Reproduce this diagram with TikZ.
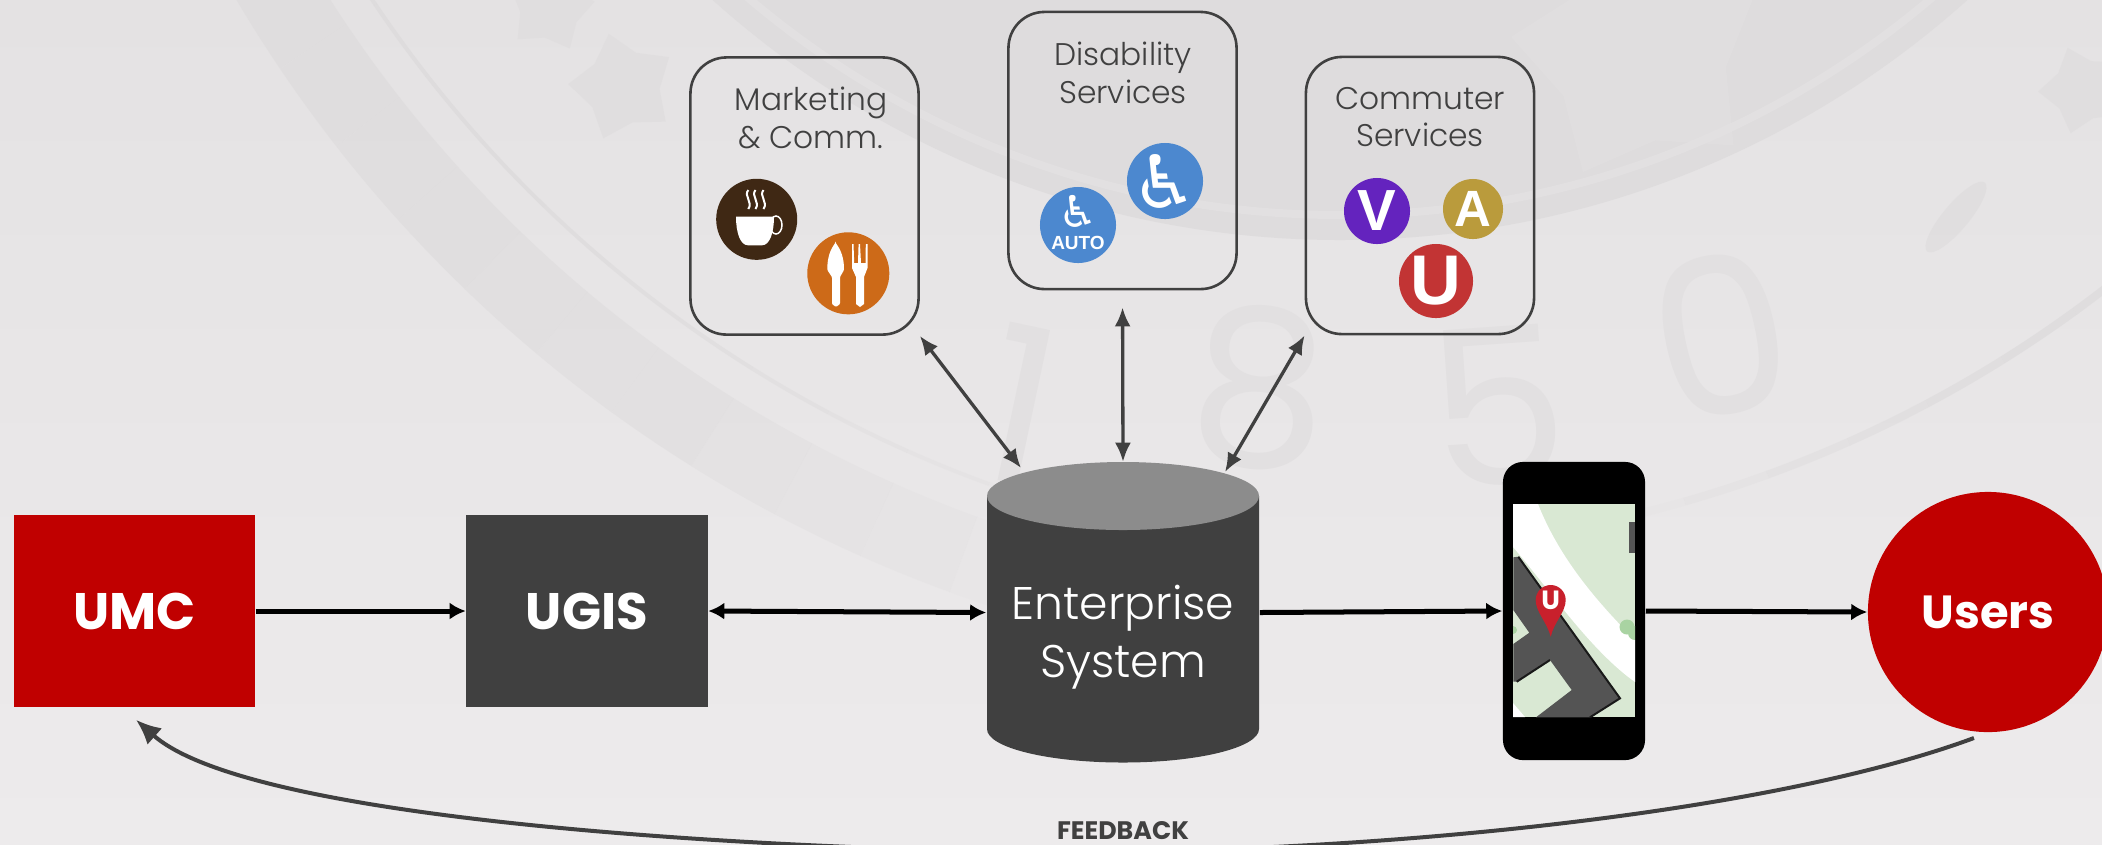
\documentclass[tikz,border=0pt]{standalone}
\usepackage{fontspec}
\usepackage{tikz}
\usetikzlibrary{arrows.meta, shapes.geometric}
\setmainfont{Poppins}
\newfontfamily\lightfont{Poppins Light}
\newfontfamily\armfont{Liberation Sans}
\newfontfamily\symfont{DejaVu Sans}

\definecolor{uured}{HTML}{C00000}
\definecolor{uudark}{HTML}{404040}
\definecolor{bgtop}{HTML}{E4E2E3}
\definecolor{bgbot}{HTML}{EDEBEC}
\definecolor{sealband}{HTML}{DEDCDD}
\definecolor{sealline}{HTML}{DCDADB}
\definecolor{sealdisc}{HTML}{DEDCDD}
\definecolor{seallite}{HTML}{E2E0E1}
\definecolor{mapgreen}{HTML}{D9E8D3}
\definecolor{mapdot}{HTML}{A9D3A2}
\definecolor{pinred}{HTML}{C8202C}
\definecolor{chairblue}{HTML}{4C88CF}
\definecolor{coffeebrown}{HTML}{3F2814}
\definecolor{diningorange}{HTML}{CD6A18}
\definecolor{lineviolet}{HTML}{6423BE}
\definecolor{linegold}{HTML}{BA9B3C}
\definecolor{linered}{HTML}{C23434}

\tikzset{
  solidbox/.style={rectangle, text=white, font=\bfseries\fontsize{14.6}{18}\selectfont,
    minimum width=2.41cm, minimum height=1.92cm, inner sep=0},
  servicebox/.style={draw=uudark, line width=0.026cm, rectangle, rounded corners=0.36cm,
    minimum width=2.28cm, minimum height=2.77cm, inner sep=0},
  servicetext/.style={text=uudark, align=center, inner sep=0,
    font=\lightfont\fontsize{8.9}{10.7}\selectfont},
  icon/.style={circle, inner sep=0, text=white},
  flow/.style={line width=0.05cm, black, {Latex[length=0.16cm,width=0.17cm]}-{Latex[length=0.16cm,width=0.17cm]}},
  oneway/.style={line width=0.05cm, black, -{Latex[length=0.16cm,width=0.17cm]}},
  link/.style={line width=0.033cm, uudark, {Latex[length=0.19cm,width=0.16cm]}-{Latex[length=0.19cm,width=0.16cm]}},
  sealdigit/.style={text=seallite, inner sep=0, font=\fontsize{62}{62}\selectfont},
  sealstar/.style={star, star points=5, inner sep=0, opacity=0.45},
}

\begin{document}
\begin{tikzpicture}[x=0.01cm, y=-0.01cm]
  \useasboundingbox (0,0) rectangle (2102,844);

  % seal behind everything
  \shade [top color=bgtop, bottom color=bgbot] (0,0) rectangle (2102,844);
  \begin{scope}
    \clip (0,0) rectangle (2102,844);
    \fill [sealdisc] (1340,-700) circle [radius=940];
    \draw [seallite, line width=0.08cm] (1340,-700) circle [radius=915];
    % the bands fade out along their length
    \foreach \ang/\op in {150/.75,146/.75,142/.75,138/.7,134/.65,130/.6,126/.55,122/.45,118/.35,114/.25,110/.15} {
      \draw [sealband, line width=0.8cm, opacity=\op] (1420,-700) ++(\ang:1335) arc [start angle=\ang, end angle=\ang-4, radius=1335];
      \draw [sealline, line width=0.04cm, opacity=\op] (1420,-700) ++(\ang:1260) arc [start angle=\ang, end angle=\ang-4, radius=1260];
    }
    \foreach \ang/\op in {42/.7,46/.7,50/.7,54/.7,58/.6,62/.5,66/.4,70/.3,74/.15} {
      \draw [sealline, line width=0.08cm, opacity=\op] (1340,-700) ++(\ang:1250) arc [start angle=\ang, end angle=\ang+4, radius=1250];
    }
    \node [sealstar, fill=sealline, minimum size=1.1cm, rotate=15] (starleft) at (623,87) {};
    \node [sealstar, fill=sealline, minimum size=0.9cm, rotate=-10] (startop) at (550,8) {};
    \node [sealstar, fill=sealline, minimum size=0.9cm, rotate=20] (starright) at (2083,90) {};
    \node [sealstar, fill=bgtop, minimum size=2.6cm, rotate=10] (starbig) at (1640,55) {};
    \node [ellipse, fill=sealline, opacity=0.5, minimum width=0.26cm, minimum height=0.9cm, inner sep=0, rotate=-40] (leaf) at (1956,217) {};
    \node [sealdigit, rotate=-12] (dig1) at (1020,405) {1};
    \node [sealdigit, rotate=-4] (dig8) at (1260,388) {8};
    \node [sealdigit, rotate=4] (dig5) at (1498,406) {5};
    \node [sealdigit, rotate=12] (dig0) at (1721,335) {0};
  \end{scope}

  % main row
  \node [solidbox, fill=uured] (umc) at (134.5,611) {UMC};
  \node [solidbox, fill=uudark] (ugis) at (587,611) {UGIS};
  \node [rectangle, minimum width=2.72cm, minimum height=3cm, inner sep=0] (enterprise) at (1123,612.5) {};
  \fill [uudark] (987,496) -- (987,729) arc [start angle=180, end angle=0, x radius=136, y radius=33.5] -- (1259,496) -- cycle;
  \fill [black!45] (1123,496) ellipse [x radius=136, y radius=34];
  \node [text=white, align=center, inner sep=0, font=\lightfont\fontsize{13}{16.4}\selectfont] (enterlabel) at (1123,637) {Enterprise\\System};
  \coordinate (enterleft) at (1021,468);
  \coordinate (enterright) at (1225,472);
  \node [rectangle, fill=black, rounded corners=0.2cm, minimum width=1.42cm, minimum height=2.98cm, inner sep=0] (phone) at (1574,611) {};
  \node [circle, fill=uured, text=white, minimum size=2.4cm, inner sep=0, font=\bfseries\fontsize{13.2}{18}\selectfont] (users) at (1988,612) {Users};

  % map on the phone
  \begin{scope}
    \clip (1513,504) rectangle (1635,717);
    \fill [mapgreen] (1513,504) rectangle (1635,717);
    \fill [white] (1513,504) -- (1538,504) .. controls (1560,560) and (1600,605) .. (1635,640) -- (1635,682)
      .. controls (1590,650) and (1550,590) .. (1513,547) -- cycle;
    \fill [white] (1513,703) -- (1525,717) -- (1513,717) -- cycle;
    \fill [mapdot] (1627,627) circle [radius=7.5];
    \fill [mapdot] (1635,633) circle [radius=7];
    \fill [mapdot] (1513,630) circle [radius=4];
    \fill [black!67] (1513.3,557.3) -- (1518.3,556.7) -- (1620,698.3) -- (1590,717.3) -- (1536,717.3)
      -- (1571.7,690) -- (1550,660) -- (1516.7,681.7) -- (1513.3,681.7) -- (1513.3,644)
      -- (1529.3,632.7) -- (1513.3,610) -- cycle;
    \draw [black!90, line width=0.02cm] (1518.3,556.7) -- (1620,698.3) -- (1590,717.3);
    \draw [black!90, line width=0.02cm] (1516.7,681.7) -- (1550,660);
    \fill [black!67] (1629,522) rectangle (1635,553);
  \end{scope}
  \fill [pinred] (1550.7,636.7) .. controls (1547,622) and (1535.7,612) .. (1535.7,600)
    arc [start angle=180, end angle=360, radius=15] .. controls (1565.7,612) and (1554,622) .. cycle;
  \node [text=white, inner sep=0, font=\rmfamily\bfseries\fontsize{7.5}{8}\selectfont] (pinletter) at (1550.7,600) {U};

  % service boxes
  \node [servicebox] (marketing) at (804.5,196) {};
  \node [servicebox] (disability) at (1122.5,150.5) {};
  \node [servicebox] (commuter) at (1420,195.5) {};
  \node [servicetext] (marketlabel) at (811,118) {Marketing\\\& Comm.};
  \node [servicetext] (disablabel) at (1123,73) {Disability\\Services};
  \node [servicetext] (commutlabel) at (1420,117) {Commuter\\Services};

  % coffee
  \node [icon, fill=coffeebrown, minimum size=0.81cm] (coffee) at (756.7,219.3) {};
  \fill [white] (736,216.7) -- (774,216.7) .. controls (774,232) and (770,245.3) .. (762,245.3) -- (748,245.3)
    .. controls (740,245.3) and (736,232) .. cycle;
  \draw [white, line width=0.015cm] (776,225) ellipse [x radius=6, y radius=9];
  \foreach \sx in {748.3,755.5,763.5} {
    \draw [white, line width=0.02cm] (\sx,190) .. controls (\sx-5,196) and (\sx+5,202) .. (\sx,209);
  }
  % dining
  \node [icon, fill=diningorange, minimum size=0.82cm] (dining) at (848.3,273.3) {};
  \fill [white, rounded corners=0.01cm] (835.5,242.7) .. controls (830,250) and (827.3,258) .. (827.3,270)
    -- (832,277) -- (832,304) -- (836,307) -- (840,304) -- (840,277) -- (844,270) .. controls (844,258) and (841,250) .. cycle;
  \fill [white] (856,277) -- (856,304) -- (860,307) -- (864,304) -- (864,277) -- (867.5,268) -- (867.5,244) -- (865.8,244)
    -- (865.5,263) -- (861,263) -- (860,244) -- (858.6,244) -- (858,263) -- (854.2,263) -- (853.5,244) -- (852,244) -- (852,268) -- cycle;

  % wheelchairs
  \node [icon, fill=chairblue, minimum size=0.76cm] (chairbig) at (1165,181) {};
  \node [text=white, inner sep=0, font=\symfont\fontsize{21}{21}\selectfont] (chairlarge) at (1165,181) {♿};
  \node [icon, fill=chairblue, minimum size=0.76cm] (chairauto) at (1078,225) {};
  \node [text=white, inner sep=0, font=\symfont\fontsize{12.5}{13}\selectfont] (chairsmall) at (1078,211) {♿};
  \node [text=white, inner sep=0, font=\armfont\bfseries\fontsize{5.4}{6}\selectfont] (autotext) at (1078,243) {AUTO};

  % lines
  \node [icon, fill=lineviolet, minimum size=0.66cm, font=\armfont\bfseries\fontsize{16.5}{17}\selectfont] (lineV) at (1377,211) {V};
  \node [icon, fill=linegold, minimum size=0.6cm, font=\armfont\bfseries\fontsize{14.5}{15}\selectfont] (lineA) at (1473,209) {A};
  \node [icon, fill=linered, minimum size=0.74cm, font=\armfont\bfseries\fontsize{20}{21}\selectfont] (lineU) at (1436,281) {U};

  % connectors
  \draw [oneway] (umc.east) -- (ugis.west);
  \draw [flow] (ugis.east) -- (enterprise.west);
  \draw [oneway] (enterprise.east) -- (phone.west);
  \draw [oneway] (phone.east) -- (users.west);
  \draw [link] (marketing.south east) -- (enterleft);
  \draw [link, shorten <=0.17cm] (disability.south) -- (enterprise.north);
  \draw [link] (commuter.south west) -- (enterright);

  % feedback, it dips below the page edge
  \coordinate (fblow) at (1070,852);
  \draw [line width=0.04cm, uudark, -{Latex[length=0.25cm,width=0.22cm]}, shorten <=0.15cm, shorten >=0.18cm]
    (users.south) .. controls (1780,810) and (1400,852) .. (fblow)
    .. controls (860,852) and (260,830) .. ([xshift=-0.12cm]umc.south);
  \node [text=uudark, inner sep=0, font=\bfseries\fontsize{7.2}{8}\selectfont] (feedback) at (1123,831) {FEEDBACK};
\end{tikzpicture}
\end{document}
